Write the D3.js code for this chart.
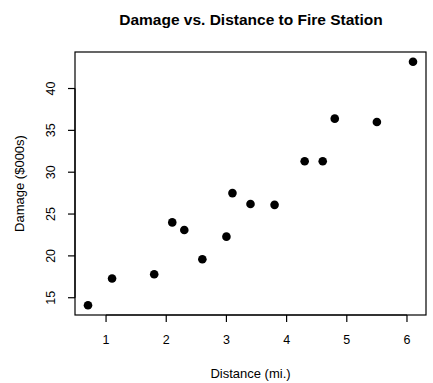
<!DOCTYPE html>
<html>
<head>
<meta charset="utf-8">
<style>
body { margin: 0; background: #fff; }
text { font-family: "Liberation Sans", Arial, sans-serif; fill: #000; }
</style>
</head>
<body>
<svg id="container" width="433" height="383"></svg>
<script src="https://cdn.jsdelivr.net/npm/d3@7/dist/d3.min.js"></script>
<script>
// distance to fire station (mi.) and damage ($000s)
var distance = [3.4, 1.8, 4.6, 2.3, 3.1, 5.5, 0.7, 3.0, 2.6, 4.3, 2.1, 1.1, 6.1, 4.8, 3.8];
var damage = [26.2, 17.8, 31.3, 23.1, 27.5, 36.0, 14.1, 22.3, 19.6, 31.3, 24.0, 17.3, 43.2, 36.4, 26.1];
var xTicks = [1, 2, 3, 4, 5, 6];
var yTicks = [15, 20, 25, 30, 35, 40];

var svg = d3.select("#container");
// plot region (window.top is reserved, so own names)
var pL = 75, pR = 426, pT = 52, pB = 315;

// R style 4% padding on the data range
function padded(v) {
  var ext = d3.extent(v), p = (ext[1] - ext[0]) * 0.04;
  return [ext[0] - p, ext[1] + p];
}
var x = d3.scaleLinear().domain(padded(distance)).range([pL, pR]);
var y = d3.scaleLinear().domain(padded(damage)).range([pB, pT]);

// box
svg.append("rect")
  .attr("x", pL).attr("y", pT)
  .attr("width", pR - pL).attr("height", pB - pT)
  .attr("fill", "none").attr("stroke", "#000").attr("stroke-width", 1.2);

// x axis
var xa = svg.append("g").attr("transform", "translate(0," + pB + ")");
xa.append("line").attr("x1", x(1)).attr("x2", x(6)).attr("stroke", "#000").attr("stroke-width", 1.2);
xa.selectAll(".t").data(xTicks).enter().append("line")
  .attr("x1", d => x(d)).attr("x2", d => x(d)).attr("y1", 0).attr("y2", 7)
  .attr("stroke", "#000").attr("stroke-width", 1.2);
xa.selectAll("text").data(xTicks).enter().append("text")
  .attr("x", d => x(d)).attr("y", 29)
  .attr("text-anchor", "middle").attr("font-size", 12.5)
  .text(d => d);

// y axis
var ya = svg.append("g").attr("transform", "translate(" + pL + ",0)");
ya.append("line").attr("y1", y(15)).attr("y2", y(40)).attr("stroke", "#000").attr("stroke-width", 1.2);
ya.selectAll(".t").data(yTicks).enter().append("line")
  .attr("y1", d => y(d)).attr("y2", d => y(d)).attr("x1", 0).attr("x2", -7)
  .attr("stroke", "#000").attr("stroke-width", 1.2);
ya.selectAll("text").data(yTicks).enter().append("text")
  .attr("transform", d => "translate(-20," + y(d) + ") rotate(-90)")
  .attr("text-anchor", "middle").attr("font-size", 12.5)
  .text(d => d);

// points
svg.selectAll("circle").data(distance).enter().append("circle")
  .attr("cx", d => x(d))
  .attr("cy", (d, i) => y(damage[i]))
  .attr("r", 4.3)
  .attr("fill", "#000");

// titles
svg.append("text").attr("x", (pL + pR) / 2 + 0.5).attr("y", 25)
  .attr("text-anchor", "middle").attr("font-size", 15.5).attr("font-weight", "bold")
  .text("Damage vs. Distance to Fire Station");
svg.append("text").attr("x", (pL + pR) / 2).attr("y", 378)
  .attr("text-anchor", "middle").attr("font-size", 13)
  .text("Distance (mi.)");
svg.append("text").attr("transform", "translate(24," + (pT + pB) / 2 + ") rotate(-90)")
  .attr("text-anchor", "middle").attr("font-size", 13)
  .text("Damage ($000s)");
</script>
</body>
</html>
